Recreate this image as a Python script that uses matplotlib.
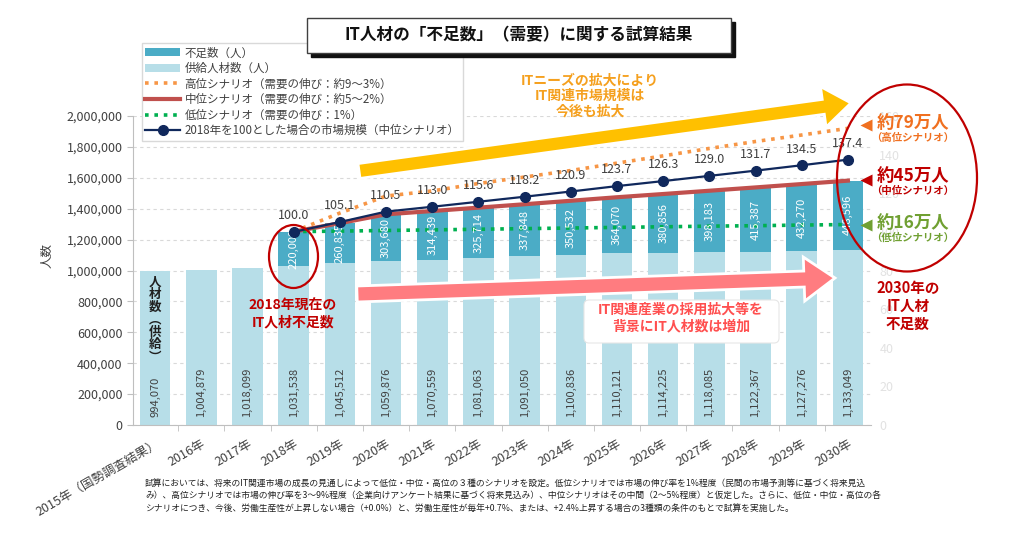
import matplotlib.pyplot as plt
import numpy as np
from matplotlib.patches import Rectangle, Ellipse, FancyArrow, FancyBboxPatch
from matplotlib.ticker import FuncFormatter

plt.rcParams['font.family'] = ['Noto Sans CJK JP', 'DejaVu Sans']

# data
years = ['2015年（国勢調査結果）', '2016年', '2017年', '2018年', '2019年', '2020年',
         '2021年', '2022年', '2023年', '2024年', '2025年', '2026年', '2027年',
         '2028年', '2029年', '2030年']
supply = [994070, 1004879, 1018099, 1031538, 1045512, 1059876, 1070559, 1081063,
          1091050, 1100836, 1110121, 1114225, 1118085, 1122367, 1127276, 1133049]
shortage = [0, 0, 0, 220000, 260835, 303680, 314439, 325714, 337848, 350532,
            364070, 380856, 398183, 415387, 432270, 448596]
# demand scenarios from 2018 to 2030
high_demand = [1251538, 1372000, 1482000, 1515000, 1563000, 1605000, 1647000,
               1695000, 1742000, 1790000, 1835000, 1877000, 1920000]
low_demand = [1251538, 1255000, 1259000, 1263000, 1267000, 1271000, 1275000,
              1279000, 1283000, 1287000, 1290000, 1294000, 1297600]
market_index = [100.0, 105.1, 110.5, 113.0, 115.6, 118.2, 120.9, 123.7, 126.3,
                129.0, 131.7, 134.5, 137.4]

c_supply = '#b7dee8'
c_short = '#4bacc6'
c_high = '#f79646'
c_mid = '#c0504d'
c_low = '#00b050'
c_navy = '#10285c'
c_dred = '#c00000'

fig = plt.figure(figsize=(10.24, 5.36), dpi=100)
ax = fig.add_axes([133 / 1024, 111 / 536, 738 / 1024, 309 / 536])

x = np.arange(len(years))
x_fc = x[3:]
supply_arr = np.array(supply)
short_arr = np.array(shortage)
mid_demand = supply_arr[3:] + short_arr[3:]

ax.bar(x, supply, width=0.66, color=c_supply, zorder=2, label='供給人材数（人）')
ax.bar(x_fc, short_arr[3:], bottom=supply_arr[3:], width=0.66, color=c_short,
       zorder=2, label='不足数（人）')

ax.plot(x_fc, high_demand, color=c_high, lw=2.6, ls=(0, (1, 1.6)), zorder=3,
        label='高位シナリオ（需要の伸び：約9～3%）')
ax.plot(x_fc, mid_demand, color=c_mid, lw=3, zorder=3,
        label='中位シナリオ（需要の伸び：約5～2%）')
ax.plot(x_fc, low_demand, color=c_low, lw=2.6, ls=(0, (1, 1.6)), zorder=3,
        label='低位シナリオ（需要の伸び：1%）')

# bar value labels
for i in x:
    ax.text(i, 55000, f'{supply[i]:,}', rotation=90, ha='center', va='bottom',
            fontsize=8, color='#404040', zorder=4)
for i in x_fc:
    ax.text(i, supply[i] + shortage[i] / 2, f'{shortage[i]:,}', rotation=90,
            ha='center', va='center', fontsize=8, color='white', zorder=4)

ax.text(0, 680000, '人\n材\n数\n︵\n供\n給\n︶', ha='center', va='center',
        fontsize=9, fontweight='bold', color='#202020', linespacing=0.95, zorder=4)

ax.set_xlim(-0.48, 15.5)
ax.set_ylim(0, 2000000)
ax.set_yticks(np.arange(0, 2000001, 200000))
ax.yaxis.set_major_formatter(FuncFormatter(lambda v, p: f'{int(v):,}'))
ax.set_xticks(x)
ax.set_xticklabels(years, rotation=30, ha='right', rotation_mode='anchor',
                   fontsize=9, color='#404040')
ax.set_xticks(x[:-1] + 0.5, minor=True)
ax.tick_params(axis='x', which='major', length=0, pad=9)
ax.tick_params(axis='x', which='minor', length=4, color='#bfbfbf')
ax.tick_params(axis='y', length=4, color='#bfbfbf', labelsize=9, labelcolor='#404040')
ax.grid(axis='y', color='#d9d9d9', ls=(0, (3, 3)), lw=0.8, zorder=0)
for s in ['top', 'right']:
    ax.spines[s].set_visible(False)
for s in ['left', 'bottom']:
    ax.spines[s].set_color('#bfbfbf')
ax.set_ylabel('人数', fontsize=9, color='#404040')
ax.yaxis.set_label_coords(-0.108, 0.55)

# market size index on secondary axis
ax2 = ax.twinx()
ax2.set_ylim(0, 160)
ax2.set_yticks(np.arange(0, 161, 20))
ax2.tick_params(axis='y', length=0, labelsize=9, labelcolor='#e2e2e2', pad=6)
for s in ax2.spines.values():
    s.set_visible(False)
ax2.plot(x_fc, market_index, color=c_navy, lw=1.6, marker='o', ms=7, zorder=5,
         label='2018年を100とした場合の市場規模（中位シナリオ）')
for xi, v in zip(x_fc, market_index):
    ax2.annotate(f'{v:.1f}', (xi, v), xytext=(0, 7), textcoords='offset points',
                 ha='center', va='bottom', fontsize=9, color='#404040')

h1, l1 = ax.get_legend_handles_labels()
h2, l2 = ax2.get_legend_handles_labels()
hd = dict(zip(l1 + l2, h1 + h2))
order = ['不足数（人）', '供給人材数（人）', '高位シナリオ（需要の伸び：約9～3%）',
         '中位シナリオ（需要の伸び：約5～2%）', '低位シナリオ（需要の伸び：1%）',
         '2018年を100とした場合の市場規模（中位シナリオ）']
leg = ax2.legend([hd[k] for k in order], order, loc='upper left',
                 bbox_to_anchor=(142 / 1024, 1 - 43 / 536), bbox_transform=fig.transFigure,
                 fontsize=8.3, frameon=True, fancybox=False, framealpha=1,
                 edgecolor='#d9d9d9', labelspacing=0.22, handlelength=3.0,
                 handletextpad=0.4, borderpad=0.3, borderaxespad=0)
for t in leg.get_texts():
    t.set_color('#404040')

# overlay in pixel coordinates for decorations
ov = fig.add_axes([0, 0, 1, 1], zorder=10)
ov.set_xlim(0, 1024)
ov.set_ylim(536, 0)
ov.axis('off')

# title box
ov.add_patch(Rectangle((311, 22), 424, 35, color='#111111'))
ov.add_patch(Rectangle((307, 18), 424, 35, facecolor='white', edgecolor='#404040', lw=1))
ov.text(519, 35.5, 'IT人材の「不足数」（需要）に関する試算結果', ha='center', va='center',
        fontsize=12, fontweight='bold', color='#111111')

# yellow arrow
ov.add_patch(FancyArrow(359, 171, 492, -68, width=15, head_width=41, head_length=28,
                        length_includes_head=True, facecolor='#ffc000',
                        edgecolor='white', lw=2))
ov.text(590, 96, 'ITニーズの拡大により\nIT関連市場規模は\n今後も拡大', ha='center',
        va='center', fontsize=10, fontweight='bold', color='#f5a01e', linespacing=1.15)

# pink arrow
ov.add_patch(FancyArrow(357, 294, 478, -16, width=16, head_width=44, head_length=31,
                        length_includes_head=True, facecolor='#ff7c80',
                        edgecolor='white', lw=2))
ov.add_patch(FancyBboxPatch((584, 300), 195, 43, boxstyle='round,pad=0,rounding_size=5',
                            facecolor='white', edgecolor='#e6e6e6', lw=0.8))
ov.text(681, 318, 'IT関連産業の採用拡大等を\n背景にIT人材数は増加', ha='center',
        va='center', fontsize=10, fontweight='bold', color='#ff4f4f', linespacing=1.3)

# 2018 circle
ov.add_patch(Ellipse((293.5, 256.5), 49, 63, fill=False, edgecolor=c_dred, lw=1.6))
ov.text(293, 314, '2018年現在の\nIT人材不足数', ha='center', va='center', fontsize=10,
        fontweight='bold', color=c_dred, linespacing=1.2)

# 2030 circle and scenario notes
ov.add_patch(Ellipse((907, 178), 140, 187, fill=False, edgecolor=c_dred, lw=1.6))
notes = [('約79万人', '（高位シナリオ）', '#f07020', 123, 125),
         ('約45万人', '（中位シナリオ）', c_dred, 176, 180),
         ('約16万人', '（低位シナリオ）', '#70a032', 223, 225)]
for big, small, col, ty, my in notes:
    ov.text(913, ty, big, ha='center', va='center', fontsize=12.5, fontweight='bold', color=col)
    ov.text(913, ty + 15, small, ha='center', va='center', fontsize=7.5, fontweight='bold', color=col)
    ov.plot(866, my, marker='<', ms=8, color=col, mec='none')
ov.text(908, 306, '2030年の\nIT人材\n不足数', ha='center', va='center', fontsize=10.5,
        fontweight='bold', color=c_dred, linespacing=1.15)

# footnote
foot = ['試算においては、将来のIT関連市場の成長の見通しによって低位・中位・高位の３種のシナリオを設定。低位シナリオでは市場の伸び率を1%程度（民間の市場予測等に基づく将来見込',
        'み）、高位シナリオでは市場の伸び率を3～9%程度（企業向けアンケート結果に基づく将来見込み）、中位シナリオはその中間（2～5%程度）と仮定した。さらに、低位・中位・高位の各',
        'シナリオにつき、今後、労働生産性が上昇しない場合（+0.0%）と、労働生産性が毎年+0.7%、または、+2.4%上昇する場合の3種類の条件のもとで試算を実施した。']
for k, line in enumerate(foot):
    ov.text(145, 483 + k * 12.5, line, ha='left', va='center', fontsize=6.3, color='#202020')

fig.savefig('out.png', dpi=100)
